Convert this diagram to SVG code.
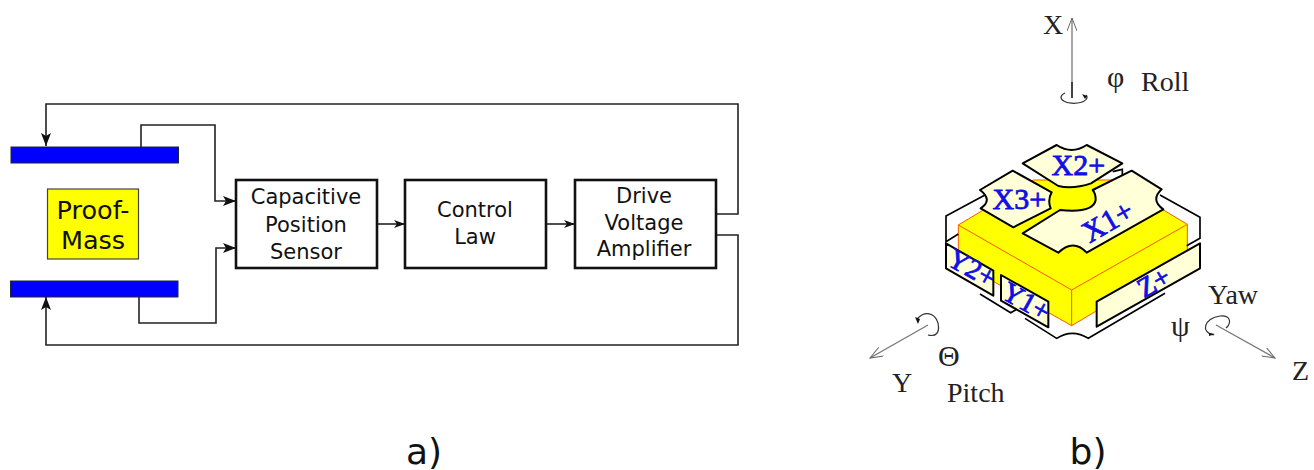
<svg xmlns="http://www.w3.org/2000/svg" width="1314" height="470" viewBox="0 0 1314 470">
<style>
.s{font-family:"DejaVu Sans",sans-serif;fill:#111;text-anchor:middle}
.b{font-size:21px}
.t{font-family:"Liberation Serif",serif;fill:#222;font-size:28px}
.g{font-family:"Liberation Serif",serif;fill:#222;font-size:30px}
.l{font-family:"Liberation Serif",serif;fill:#0f0fe6;stroke:#0f0fe6;stroke-width:2.500;font-size:90px;text-anchor:middle}
.m{font-size:84px}
.w{fill:none;stroke:#222;stroke-width:1.600}
.box{fill:#fff;stroke:#111;stroke-width:2.600}
.p{fill:#00f;stroke:#223;stroke-width:1}
.e{fill:#ffffd8;stroke:#000;stroke-width:6;stroke-linejoin:round}
.f{fill:none;stroke:#000;stroke-width:5}
.ax{fill:none;stroke:#777;stroke-width:1.300}
.rot{fill:none;stroke:#333;stroke-width:1.200}
</style>
<defs>
<marker id="a" markerWidth="14" markerHeight="10" refX="13" refY="5" orient="auto" markerUnits="userSpaceOnUse"><path d="M0 0L13 5L0 10L3 5Z" fill="#111"/></marker>
<marker id="n" markerWidth="12" markerHeight="8" refX="11" refY="4" orient="auto" markerUnits="userSpaceOnUse"><path d="M0 0L11 4L0 8L3 4Z" fill="#111"/></marker>
<marker id="o" markerWidth="14" markerHeight="10" refX="13" refY="5" orient="auto" markerUnits="userSpaceOnUse"><path d="M0 0L13 5L0 10" fill="none" stroke="#666" stroke-width="1"/></marker>
</defs>
<g id="connectors">
<path class="w" marker-end="url(#a)" d="M717 214H738V104H46V146"/>
<path class="w" marker-end="url(#a)" d="M717 235H738V345H46V297"/>
<path class="w" marker-end="url(#a)" d="M141 147V125H215V201H236"/>
<path class="w" marker-end="url(#a)" d="M139 297V323H216V248H236"/>
<path class="w" marker-end="url(#n)" d="M377 224H405"/>
<path class="w" marker-end="url(#n)" d="M546 224H575"/>
</g>
<g id="top-plate"><rect class="p" x="11" y="147" width="167.500" height="16"/></g>
<g id="bottom-plate"><rect class="p" x="10.500" y="281" width="167.500" height="16"/></g>
<g id="proof-mass"><rect x="47.500" y="189" width="91" height="70" fill="#ff0" stroke="#444" stroke-width="1.200"/>
<text class="s" font-size="25.500" x="93" y="219">Proof-</text><text class="s" font-size="25.500" x="93" y="249">Mass</text></g>
<g id="sensor"><rect class="box" x="236" y="180" width="141" height="88"/>
<text class="s b" x="306" y="204">Capacitive</text><text class="s b" x="306" y="232">Position</text><text class="s b" x="306" y="259">Sensor</text></g>
<g id="control"><rect class="box" x="405" y="180" width="141" height="88"/>
<text class="s b" x="475" y="217">Control</text><text class="s b" x="475" y="244">Law</text></g>
<g id="amplifier"><rect class="box" x="575" y="180" width="141" height="88"/>
<text class="s b" x="644" y="203">Drive</text><text class="s b" x="644" y="230">Voltage</text><text class="s b" x="644" y="256">Amplifier</text></g>
<text class="s" font-size="36" x="424" y="464">a)</text>
<text class="s" font-size="36" x="1088" y="464">b)</text>
<g id="thruster" transform="translate(930 130) scale(.33333)">
<path fill="#ff0" stroke="#f50" stroke-width="3" d="M85 285L310 150H550L772 283V380L425 587L85 395Z"/>
<path fill="none" stroke="#f50" stroke-width="3" d="M85 285L425 480L772 283M425 480V587"/>
<path class="f" d="M165 195L48 258V335L85 312"/>
<path class="f" d="M690 195L810 262V325L770 347"/>
<path class="f" d="M150 492L242 548L258 539M285 565L380 625Q427 595 475 625L705 490"/>
<path class="f" d="M548 125L577 118V140"/>
<path class="e" d="M278 100L380 45Q425 75 470 45L577 100L483 160Q430 178 385 168Z"/>
<path class="e" d="M150 180L248 122L365 187Q352 210 362 235L250 292L152 235Q190 210 150 180Z"/>
<path class="e" d="M605 122L695 178Q660 210 700 238L470 368Q430 325 385 368L278 310L390 240Q490 250 497 210Q497 190 488 180Z"/>
<path class="e" d="M48 340L190 422V497L48 415Z"/>
<path class="e" d="M213 435L355 515V592L213 512Z"/>
<path class="e" d="M500 515L810 340V415L500 590Z"/>
<text class="l" x="445" y="134">X2+</text>
<text class="l" x="268" y="236">X3+</text>
<text class="l" transform="translate(548 300) rotate(-30)">X1+</text>
<text class="l m" transform="translate(112 439) rotate(29)">Y2+</text>
<text class="l m" transform="translate(275 539) rotate(29)">Y1+</text>
<text class="l m" transform="translate(685 481) rotate(-30)">Z+</text>
</g>
<g id="axes">
<path class="ax" marker-end="url(#o)" d="M1072 98V18"/>
<path d="M1072 82V98" stroke="#222" stroke-width="1.500"/>
<path class="rot" d="M1065 93A13 6 0 1 0 1086 95"/>
<path d="M1082 94L1087 96L1085 99Z" fill="#111"/>
<path class="ax" marker-end="url(#o)" d="M928 325L870 358"/>
<path class="rot" d="M917 319C925 310 935 313 938 323C940 333 936 337 928 335"/>
<path d="M915 317L920 319L918 324Z" fill="#111"/>
<path class="ax" marker-end="url(#o)" d="M1216 325L1275 358"/>
<path class="rot" d="M1214 335C1200 333 1204 318 1220 316C1232 315 1231 324 1226 328"/>
<path d="M1209 333L1215 334L1209 336Z" fill="#111"/>
<text class="t" x="1043" y="34">X</text>
<text class="g" x="1107" y="87">φ</text>
<text class="t" x="1141" y="91">Roll</text>
<text class="t" x="892" y="392">Y</text>
<text class="g" x="938" y="366">Θ</text>
<text class="t" x="947" y="402">Pitch</text>
<text class="t" x="1208" y="304">Yaw</text>
<text class="g" x="1171" y="336">ψ</text>
<text class="t" x="1292" y="380">Z</text>
</g>
</svg>
